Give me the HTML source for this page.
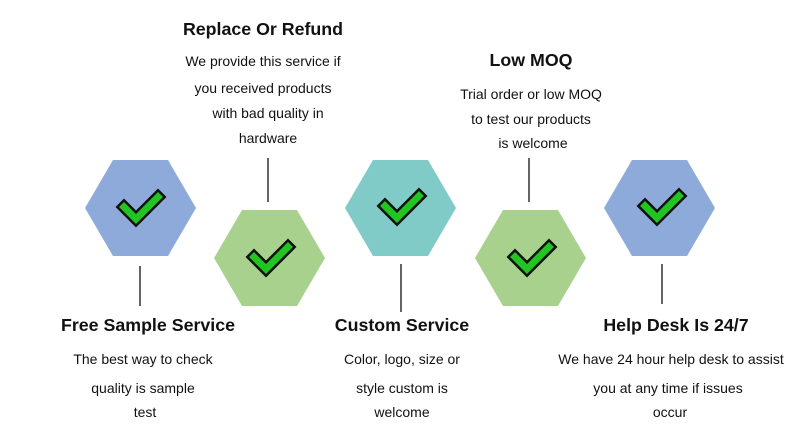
<!DOCTYPE html>
<html><head><style>
html,body{margin:0;padding:0;background:#fff;width:794px;height:438px;overflow:hidden}
svg{display:block}
text{font-family:"Liberation Sans",Arial,sans-serif;fill:#111}
.t{font-weight:bold;font-size:17.8px}
.b{font-size:14px}
</style></head><body>
<svg width="794" height="438" viewBox="0 0 794 438">
<defs>
<g id="chk">
<polyline points="-16,-1 -4,11 18,-11" fill="none" stroke="#111" stroke-width="12" stroke-linecap="square" stroke-linejoin="miter"/>
<polyline points="-16,-1 -4,11 18,-11" fill="none" stroke="#22c422" stroke-width="7" stroke-linecap="square" stroke-linejoin="miter"/>
</g>
</defs>
<polygon points="85,208 113,160 168,160 196,208 168,256 113,256" fill="#8eaadb"/>
<polygon points="214,258 242,210 297,210 325,258 297,306 242,306" fill="#a9d18e"/>
<polygon points="345,208 373,160 428,160 456,208 428,256 373,256" fill="#80cbc7"/>
<polygon points="475,258 503,210 558,210 586,258 558,306 503,306" fill="#a9d18e"/>
<polygon points="604,208 632,160 687,160 715,208 687,256 632,256" fill="#8eaadb"/>
<use href="#chk" x="140" y="208"/>
<use href="#chk" x="270" y="258"/>
<use href="#chk" x="401" y="207"/>
<use href="#chk" x="531" y="258"/>
<use href="#chk" x="661" y="207"/>
<g stroke="#111" stroke-width="1.3">
<line x1="140" y1="266" x2="140" y2="306"/>
<line x1="268" y1="158" x2="268" y2="202"/>
<line x1="401" y1="264" x2="401" y2="312"/>
<line x1="529" y1="158" x2="529" y2="202"/>
<line x1="662" y1="264" x2="662" y2="304"/>
</g>
<g text-anchor="middle">
<text class="t" x="263" y="35">Replace Or Refund</text>
<text class="b" x="263" y="66">We provide this service if</text>
<text class="b" x="263" y="93">you received products</text>
<text class="b" x="268" y="118">with bad quality in</text>
<text class="b" x="268" y="143">hardware</text>
<text class="t" x="531" y="66">Low MOQ</text>
<text class="b" x="531" y="99">Trial order or low MOQ</text>
<text class="b" x="531" y="124">to test our products</text>
<text class="b" x="533" y="148">is welcome</text>
<text class="t" x="148" y="331">Free Sample Service</text>
<text class="b" x="143" y="364">The best way to check</text>
<text class="b" x="143" y="393">quality is sample</text>
<text class="b" x="145" y="417">test</text>
<text class="t" x="402" y="331">Custom Service</text>
<text class="b" x="402" y="364">Color, logo, size or</text>
<text class="b" x="402" y="393">style custom is</text>
<text class="b" x="402" y="417">welcome</text>
<text class="t" x="676" y="331">Help Desk Is 24/7</text>
<text class="b" x="671" y="364">We have 24 hour help desk to assist</text>
<text class="b" x="668" y="393">you at any time if issues</text>
<text class="b" x="670" y="417">occur</text>
</g>
</svg>
</body></html>
